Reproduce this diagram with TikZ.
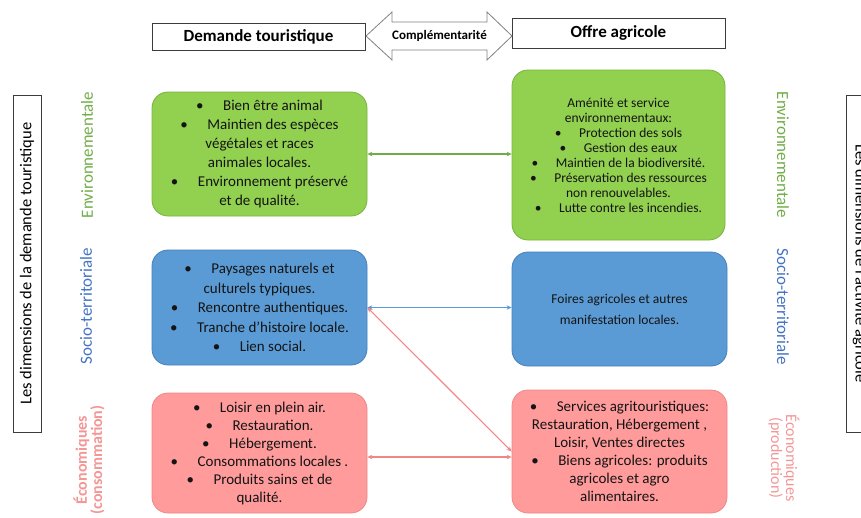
\documentclass[tikz,border=0pt]{standalone}
\usepackage{fontspec}
\setmainfont{Carlito}
\usetikzlibrary{arrows.meta,calc}
\definecolor{gfill}{RGB}{146,208,80}
\definecolor{gline}{RGB}{118,178,62}
\definecolor{bfill}{RGB}{91,155,213}
\definecolor{bline}{RGB}{70,128,188}
\definecolor{pfill}{RGB}{255,155,155}
\definecolor{pline}{RGB}{240,135,135}
\definecolor{labgreen}{RGB}{112,173,71}
\definecolor{labblue}{RGB}{68,114,196}
\definecolor{labpink}{RGB}{244,150,150}
\definecolor{frame}{RGB}{60,60,60}
\definecolor{arrgray}{RGB}{128,128,128}
\newcommand{\mybul}{•\hspace{1.3em}}
\begin{document}
\begin{tikzpicture}[x=1pt,y=-1pt,
  box/.style={rounded corners=16pt, align=center, text={rgb,255:red,20;green,20;blue,20}, inner sep=0pt, minimum width=215pt, line width=0.8pt},
  gbox/.style={box, fill=gfill, draw=gline},
  bbox/.style={box, fill=bfill, draw=bline},
  pbox/.style={box, fill=pfill, draw=pline},
  titlebox/.style={draw=frame, line width=0.9pt, fill=white, font=\fontsize{17}{20}\selectfont\bfseries, minimum width=213pt, inner sep=0pt},
  dimbox/.style={draw=frame, line width=0.9pt, font=\fontsize{16.5}{19}\selectfont, minimum width=337pt, minimum height=28pt, inner sep=0pt},
  lab/.style={font=\fontsize{17}{20}\selectfont, inner sep=0pt},
  conn/.style={{Stealth[length=5pt,width=4.5pt]}-{Stealth[length=5pt,width=4.5pt]}, line width=1.1pt}
]
\useasboundingbox (0,0) rectangle (861,517);

% titles
\node[titlebox, minimum height=27pt] (dem) at (258.5,36.5) {Demande touristique};
\node[titlebox, minimum height=30pt] (off) at (618.5,33) {Offre agricole};
\draw[arrgray, line width=0.8pt, fill=white] (366,36) -- (392,12) -- (392,22) -- (487,22) -- (487,12) -- (512,36) -- (487,60) -- (487,50) -- (392,50) -- (392,60) -- cycle;
\node[font=\fontsize{13}{15}\selectfont\bfseries, inner sep=0pt] (comp) at (439.5,36) {Complémentarité};

% side frames
\node[dimbox, rotate=90] (ldim) at (27,263.5) {Les dimensions de la demande touristique};
\node[dimbox, rotate=-90] (rdim) at (860,263.5) {Les dimensions de l’activité agricole};

% side labels
\node[lab, rotate=90, text=labgreen] (le) at (87,155) {Environnementale};
\node[lab, rotate=90, text=labblue] (ls) at (86,306) {Socio-territoriale};
\node[lab, rotate=90, text=labpink, align=center, font=\fontsize{16}{11}\selectfont\bfseries] (lp) at (89,460) {Économiques\\(consommation)};
\node[lab, rotate=-90, text=labgreen] (re) at (783,155) {Environnementale};
\node[lab, rotate=-90, text=labblue] (rs) at (783,307) {Socio-territoriale};
\node[lab, rotate=-90, text=labpink, align=center, font=\fontsize{16}{15}\selectfont] (rp) at (784,458) {Économiques\\(production)};

% boxes
\node[gbox, minimum height=124pt, font=\fontsize{15}{19}\selectfont] (g1) at (259.5,154) {\mybul Bien être animal\\ \mybul Maintien des espèces\\ végétales et races\\ animales locales.\\ \mybul Environnement préservé\\ et de qualité.};
\node[gbox, minimum width=213pt, minimum height=170pt, font=\fontsize{13.5}{15}\selectfont] (g2) at (618.5,155) {Aménité et service\\ environnementaux:\\ \mybul Protection des sols\\ \mybul Gestion des eaux\\ \mybul Maintien de la biodiversité.\\ \mybul Préservation des ressources\\ non renouvelables.\\ \mybul Lutte contre les incendies.};
\node[bbox, minimum height=115pt, font=\fontsize{15}{19.5}\selectfont] (b1) at (259.5,307.5) {\mybul Paysages naturels et\\ culturels typiques.\\ \mybul Rencontre authentiques.\\ \mybul Tranche d’histoire locale.\\ \mybul Lien social.};
\node[bbox, minimum height=114pt, font=\fontsize{13.5}{21}\selectfont] (b2) at (619.5,309) {Foires agricoles et autres\\ manifestation locales.};
\node[pbox, minimum height=120pt, font=\fontsize{15}{18}\selectfont] (p1) at (259.5,453) {\mybul Loisir en plein air.\\ \mybul Restauration.\\ \mybul Hébergement.\\ \mybul Consommations locales .\\ \mybul Produits sains et de\\ qualité.};
\node[pbox, minimum height=123pt, font=\fontsize{15}{18}\selectfont] (p2) at (619.5,451.5) {\mybul Services agritouristiques:\\ Restauration, Hébergement ,\\ Loisir, Ventes directes\\ \mybul Biens agricoles: produits\\ agricoles et agro\\ alimentaires.};

% connectors
\draw[conn, draw=labgreen] (g1.east) -- (g1.east -| g2.west);
\draw[conn, draw=bfill] (b1.east) -- (b1.east -| b2.west);
\draw[conn, draw=pline] ($(p1.east)+(0,4)$) -- ($(p1.east -| p2.west)+(0,4)$);
\draw[conn, draw=pline] (b1.east) -- (p2.west);
\end{tikzpicture}
\end{document}
